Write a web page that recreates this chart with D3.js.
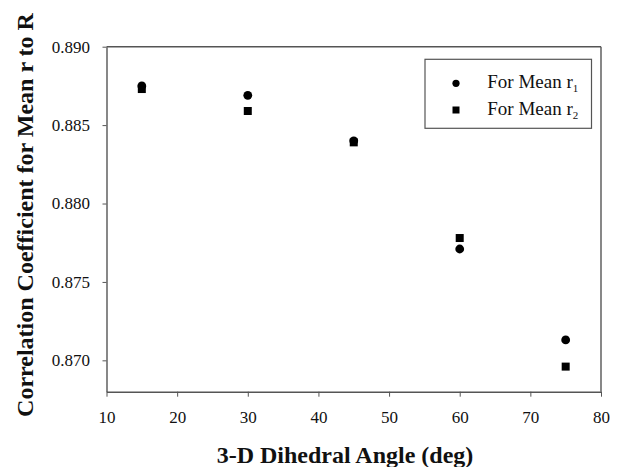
<!DOCTYPE html>
<html>
<head>
<meta charset="utf-8">
<script src="https://cdn.jsdelivr.net/npm/d3@7"></script>
<style>
  html, body { margin: 0; padding: 0; background: #fff; }
  svg { display: block; }
  text { font-family: "Liberation Serif", serif; }
</style>
</head>
<body>
<script>
// ---- data ----
const angles = [15, 30, 45, 60, 75];
const meanR1 = [0.8875, 0.8869, 0.8840, 0.8771, 0.8713];
const meanR2 = [0.8873, 0.8859, 0.8839, 0.8778, 0.8696];
const xTicks = [10, 20, 30, 40, 50, 60, 70, 80];
const yTicks = [0.870, 0.875, 0.880, 0.885, 0.890];
const seriesNames = ["For Mean r", "For Mean r"];
const seriesSubs = ["1", "2"];

// ---- layout ----
const W = 621, H = 467;
const mLeft = 106.5, mRight = 601, mTop = 46.7, mBottom = 391.7;
const axisColor = "#555";
const FONT = "Liberation Serif, serif";

const svg = d3.select("body").append("svg").attr("width", W).attr("height", H);

const x = d3.scaleLinear().domain([10, 80]).range([mLeft, mRight]);
const y = d3.scaleLinear().domain([0.868, 0.890]).range([mBottom, mTop]);

// frame (top and right)
svg.append("line").attr("x1", mLeft).attr("x2", mRight).attr("y1", mTop).attr("y2", mTop)
  .attr("stroke", axisColor).attr("stroke-width", 1.4);
svg.append("line").attr("x1", mRight).attr("x2", mRight).attr("y1", mTop).attr("y2", mBottom)
  .attr("stroke", axisColor).attr("stroke-width", 1.4);

// x axis
const gx = svg.append("g").attr("transform", `translate(0,${mBottom})`)
  .call(d3.axisBottom(x).tickValues(xTicks).tickSize(5).tickSizeOuter(0).tickPadding(19).tickFormat(d3.format("d")));
// y axis
const gy = svg.append("g").attr("transform", `translate(${mLeft},0)`)
  .call(d3.axisLeft(y).tickValues(yTicks).tickSize(4).tickSizeOuter(0).tickPadding(12.5).tickFormat(d3.format(".3f")));

[gx, gy].forEach(g => {
  g.attr("font-family", FONT).attr("font-size", 17);
  g.select(".domain").attr("stroke", axisColor).attr("stroke-width", 1.4);
  g.selectAll(".tick line").attr("stroke", axisColor).attr("stroke-width", 1);
  g.selectAll(".tick text").attr("fill", "#111").attr("font-family", FONT).attr("font-size", 17);
});
gx.selectAll(".tick text").attr("dy", null).attr("dominant-baseline", "alphabetic")
  .attr("y", 422.7 - mBottom);

// axis titles
svg.append("text").attr("x", 345).attr("y", 463)
  .attr("text-anchor", "middle").attr("font-family", FONT).attr("font-weight", "bold")
  .attr("font-size", 24).attr("fill", "#111")
  .text("3-D Dihedral Angle (deg)");
svg.append("text").attr("transform", `translate(33,215) rotate(-90)`)
  .attr("text-anchor", "middle").attr("font-family", FONT).attr("font-weight", "bold")
  .attr("font-size", 24).attr("fill", "#111")
  .text("Correlation Coefficient for Mean r to R");

// series
const pts1 = angles.map((a, i) => ({ a, v: meanR1[i] }));
const pts2 = angles.map((a, i) => ({ a, v: meanR2[i] }));
const sq = 8;
svg.append("g").selectAll("rect").data(pts2).join("rect")
  .attr("x", d => x(d.a) - sq / 2).attr("y", d => y(d.v) - sq / 2)
  .attr("width", sq).attr("height", sq).attr("fill", "#000");
svg.append("g").selectAll("circle").data(pts1).join("circle")
  .attr("cx", d => x(d.a)).attr("cy", d => y(d.v)).attr("r", 4.4).attr("fill", "#000");

// legend
const lg = svg.append("g");
lg.append("rect").attr("x", 425).attr("y", 59.3).attr("width", 166.5).attr("height", 69)
  .attr("fill", "#fff").attr("stroke", axisColor).attr("stroke-width", 1.2);
const rows = [83.3, 110];
lg.append("circle").attr("cx", 456).attr("cy", rows[0]).attr("r", 3.6).attr("fill", "#000");
lg.append("rect").attr("x", 456 - 3.5).attr("y", rows[1] - 3.5).attr("width", 7).attr("height", 7).attr("fill", "#000");
rows.forEach((ry, i) => {
  const t = lg.append("text").attr("x", 487.3).attr("y", ry + 5).attr("font-family", FONT)
    .attr("font-size", 19).attr("fill", "#111");
  t.append("tspan").text(seriesNames[i]);
  t.append("tspan").attr("font-size", 11).attr("dy", 4).text(seriesSubs[i]);
});
</script>
</body>
</html>
